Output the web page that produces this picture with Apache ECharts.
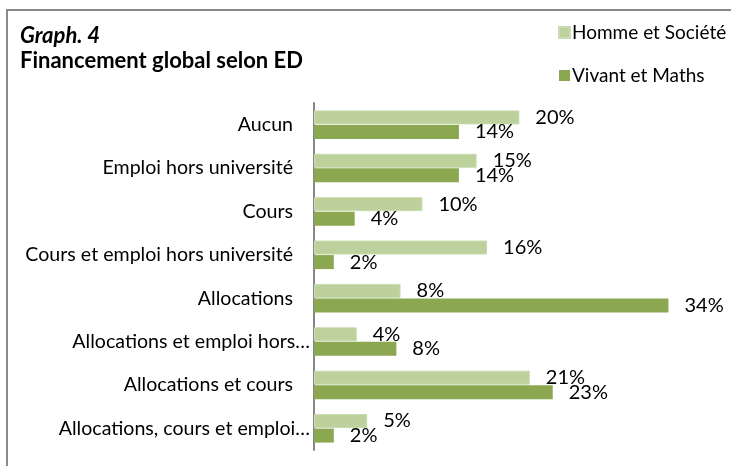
<!DOCTYPE html>
<html>
<head>
<meta charset="utf-8">
<script src="https://cdn.jsdelivr.net/npm/echarts@6/dist/echarts.min.js"></script>
<style>
html, body { margin: 0; padding: 0; background: #fff; }
#main { width: 731px; height: 466px; }
</style>
</head>
<body>
<div id="main"></div>
<script>
// categories (top to bottom), truncated ones as shown in the picture
var categories = ['Aucun', 'Emploi hors université', 'Cours', 'Cours et emploi hors université',
	'Allocations', 'Allocations et emploi hors…', 'Allocations et cours', 'Allocations, cours et emploi…'];
var truncated = [false, false, false, false, false, true, false, true];
// bar lengths (%)
var hommeSociete = [19.7, 15.6, 10.4, 16.6, 8.3, 4.1, 20.7, 5.1];
var vivantMaths = [13.9, 13.9, 3.9, 1.9, 34, 7.9, 22.9, 1.9];
// data labels as printed
var hommeLabels = ['20%', '15%', '10%', '16%', '8%', '4%', '21%', '5%'];
var vivantLabels = ['14%', '14%', '4%', '2%', '34%', '8%', '23%', '2%'];

var font = 'Lato';
var myChart = echarts.init(document.getElementById('main'), null, { renderer: 'canvas' });

var option = {
	backgroundColor: '#fff',
	animation: false,
	graphic: [{
		type: 'rect',
		shape: { x: 7, y: 10, width: 760, height: 480 },
		style: { fill: 'none', stroke: '#8a8a8a', lineWidth: 2 },
		silent: true
	}],
	title: {
		text: 'Graph. 4',
		subtext: 'Financement global selon ED',
		left: 15,
		top: 20,
		itemGap: 3,
		textStyle: { fontFamily: font, fontSize: 22, fontStyle: 'italic', fontWeight: 'bold', color: '#000' },
		subtextStyle: { fontFamily: font, fontSize: 22, fontWeight: 'bold', color: '#000' }
	},
	legend: {
		orient: 'vertical',
		left: 553,
		top: 18,
		itemWidth: 11,
		itemHeight: 11,
		itemGap: 24,
		icon: 'rect',
		textStyle: { fontFamily: font, fontSize: 19, color: '#000', padding: [0, 0, 0, -3] },
		data: ['Homme et Société', 'Vivant et Maths']
	},
	grid: { left: 314, right: 0, top: 103, bottom: 16, containLabel: false },
	xAxis: {
		type: 'value',
		min: 0,
		max: 40,
		show: false
	},
	yAxis: {
		type: 'category',
		inverse: true,
		data: categories,
		axisLine: { show: true, lineStyle: { color: '#868686', width: 2 } },
		axisTick: { show: false },
		axisLabel: {
			margin: 4,
			fontFamily: font,
			fontSize: 19.6,
			color: '#000',
			formatter: function(value, idx) {
				return truncated[idx] ? '{t|' + value + '}' : '{n|' + value + '}';
			},
			rich: {
				n: { fontFamily: font, fontSize: 19.6, color: '#000', padding: [0, 17, 0, 0] },
				t: { fontFamily: font, fontSize: 19.6, color: '#000' }
			}
		}
	},
	series: [{
		name: 'Homme et Société',
		type: 'bar',
		data: hommeSociete,
		barWidth: 14,
		barGap: '4%',
		itemStyle: { color: '#bcd19b', borderColor: '#c9dbb0', borderWidth: 1 },
		label: {
			show: true,
			position: 'right',
			distance: 16,
			fontFamily: font,
			fontSize: 20,
			color: '#000',
			formatter: function(p) { return hommeLabels[p.dataIndex]; }
		}
	}, {
		name: 'Vivant et Maths',
		type: 'bar',
		data: vivantMaths,
		barWidth: 14,
		itemStyle: { color: '#8ba750' },
		label: {
			show: true,
			position: 'right',
			distance: 16,
			fontFamily: font,
			fontSize: 20,
			color: '#000',
			formatter: function(p) { return vivantLabels[p.dataIndex]; }
		}
	}]
};
myChart.setOption(option);
</script>
</body>
</html>
